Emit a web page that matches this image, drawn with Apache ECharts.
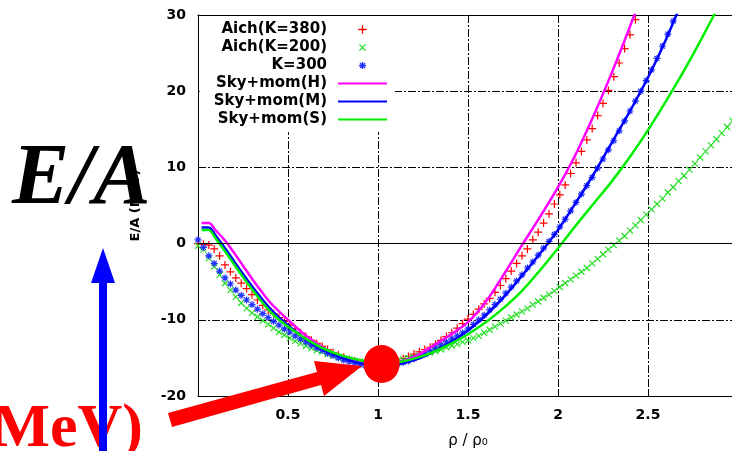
<!DOCTYPE html>
<html>
<head>
<meta charset="utf-8">
<script src="https://cdn.jsdelivr.net/npm/echarts@6/dist/echarts.min.js"></script>
<style>
  html, body { margin: 0; padding: 0; background: #fff; }
  #chart { width: 732px; height: 451px; }
</style>
</head>
<body>
<div id="chart"></div>
<script>
// density grid of the Aichelin points (rho / rho0)
const rhoPts = [
  0, 0.03, 0.06, 0.09, 0.12, 0.15, 0.18, 0.21, 0.24, 0.27,
  0.3, 0.33, 0.36, 0.39, 0.42, 0.45, 0.48, 0.51, 0.54, 0.57,
  0.6, 0.63, 0.66, 0.69, 0.72, 0.75, 0.78, 0.81, 0.84, 0.87,
  0.9, 0.93, 0.96, 0.99, 1.02, 1.05, 1.08, 1.11, 1.14, 1.17,
  1.2, 1.23, 1.26, 1.29, 1.32, 1.35, 1.38, 1.41, 1.44, 1.47,
  1.5, 1.53, 1.56, 1.59, 1.62, 1.65, 1.68, 1.71, 1.74, 1.77,
  1.8, 1.83, 1.86, 1.89, 1.92, 1.95, 1.98, 2.01, 2.04, 2.07,
  2.1, 2.13, 2.16, 2.19, 2.22, 2.25, 2.28, 2.31, 2.34, 2.37,
  2.4, 2.43, 2.46, 2.49, 2.52, 2.55, 2.58, 2.61, 2.64, 2.67,
  2.7, 2.73, 2.76, 2.79, 2.82, 2.85, 2.88, 2.91, 2.94, 2.97
]

const eAich380 = [
  0.0, -0.1, -0.2, -0.7, -1.6, -2.8, -3.7, -4.5, -5.2, -5.9,
  -6.7, -7.4, -8.1, -8.7, -9.2, -9.7, -10.2, -10.7, -11.2, -11.7,
  -12.2, -12.7, -13.1, -13.5, -13.9, -14.3, -14.6, -14.9, -15.2, -15.4,
  -15.6, -15.7, -15.8, -15.8, -15.8, -15.7, -15.6, -15.4, -15.1, -14.8,
  -14.5, -14.2, -13.9, -13.6, -13.2, -12.7, -12.2, -11.7, -11.1, -10.5,
  -9.9, -9.3, -8.6, -7.9, -7.2, -6.4, -5.5, -4.6, -3.6, -2.6,
  -1.6, -0.7, 0.5, 1.5, 2.7, 3.9, 5.2, 6.4, 7.7, 9.2,
  10.6, 12.1, 13.6, 15.1, 16.8, 18.4, 20.1, 21.9, 23.7, 25.6,
  27.4, 29.4
]

const eAich200 = [
  -0.3, -0.8, -1.9, -3.0, -4.1, -5.2, -6.1, -7.0, -7.8, -8.5,
  -9.1, -9.6, -10.1, -10.6, -11.1, -11.6, -12.0, -12.4, -12.8, -13.1,
  -13.4, -13.7, -14.0, -14.2, -14.5, -14.7, -14.9, -15.1, -15.2, -15.4,
  -15.5, -15.6, -15.6, -15.7, -15.7, -15.6, -15.5, -15.4, -15.2, -15.0,
  -14.9, -14.7, -14.5, -14.3, -14.1, -13.9, -13.6, -13.4, -13.2, -12.9,
  -12.7, -12.4, -12.1, -11.7, -11.3, -10.9, -10.5, -10.1, -9.7, -9.3,
  -8.9, -8.5, -8.0, -7.6, -7.1, -6.7, -6.2, -5.7, -5.2, -4.7,
  -4.2, -3.7, -3.2, -2.6, -2.0, -1.4, -0.8, -0.2, 0.4, 1.0,
  1.7, 2.4, 3.1, 3.8, 4.5, 5.2, 5.9, 6.7, 7.4, 8.2,
  8.9, 9.7, 10.5, 11.3, 12.1, 12.9, 13.7, 14.5, 15.3, 16.1
]

const eK300 = [
  0.5, -0.5, -1.6, -2.6, -3.6, -4.5, -5.3, -6.1, -6.8, -7.4,
  -8.0, -8.6, -9.2, -9.7, -10.2, -10.7, -11.2, -11.6, -12.1, -12.5,
  -12.9, -13.3, -13.7, -14.0, -14.4, -14.7, -15.0, -15.3, -15.5, -15.7,
  -15.9, -16.0, -16.1, -16.1, -16.1, -16.0, -15.9, -15.8, -15.6, -15.4,
  -15.1, -14.8, -14.5, -14.1, -13.7, -13.3, -12.9, -12.5, -12.1, -11.7,
  -11.2, -10.6, -10.0, -9.4, -8.7, -8.0, -7.3, -6.5, -5.7, -4.9,
  -4.1, -3.2, -2.4, -1.5, -0.6, 0.3, 1.2, 2.2, 3.2, 4.3,
  5.4, 6.5, 7.6, 8.7, 9.9, 11.1, 12.3, 13.5, 14.8, 16.1,
  17.4, 18.7, 20.0, 21.4, 22.8, 24.3, 25.9, 27.5, 29.2
]

// Skyrme + momentum dependence curves
const rhoLine = [
  0.02, 0.06, 0.1, 0.15, 0.2, 0.25, 0.3, 0.35, 0.4, 0.45, 0.5,
  0.6, 0.7, 0.8, 0.9, 1.0, 1.1, 1.2, 1.3, 1.4, 1.5, 1.6, 1.7, 1.8, 1.9,
  2.0, 2.1, 2.2, 2.3, 2.4, 2.5, 2.6, 2.7, 2.8, 2.9
]
const eSkyH = [
  2.7, 2.7, 1.7, 0.4, -1.2, -2.9, -4.6, -6.2, -7.7, -8.9, -10.0,
  -12.1, -13.7, -14.9, -15.6, -15.9, -15.7, -14.9, -13.5, -12.0, -10.3, -7.6, -4.0, -0.2, 3.5,
  7.4, 11.8, 16.9, 22.5, 28.5, 34.8
]
const eSkyM = [
  2.1, 2.1, 1.0, -0.6, -2.3, -4.0, -5.6, -7.1, -8.5, -9.7, -10.7,
  -12.6, -14.0, -15.0, -15.7, -16.0, -15.9, -15.3, -14.3, -13.0, -11.4, -9.4, -7.0, -4.2, -1.3,
  1.8, 5.4, 9.2, 13.3, 17.4, 21.8, 26.8, 32.4
]
const eSkyS = [
  1.8, 1.8, 0.6, -1.0, -2.7, -4.4, -6.0, -7.5, -8.9, -10.0, -10.9,
  -12.5, -13.8, -14.7, -15.3, -15.6, -15.6, -15.1, -14.3, -13.2, -11.9, -10.3, -8.4, -6.2, -3.5,
  -0.6, 2.4, 5.3, 8.2, 11.4, 14.9, 18.7, 22.7, 27.0, 31.5
]

// saturation point marked by the red dot
const satPoint = [1.02, -15.8]

const legendNames = ['Aich(K=380)', 'Aich(K=200)', 'K=300', 'Sky+mom(H)', 'Sky+mom(M)', 'Sky+mom(S)']
const colors = ['#ff0000', '#22dd22', '#2233ff', '#ff00ff', '#0000ff', '#00ee00']

const pairs = (xs, ys) => ys.map((y, i) => [xs[i], y])

const PLUS = 'path://M0,5L10,5M5,0L5,10'
const CROSS = 'path://M0,0L10,10M0,10L10,0'
const STAR = 'path://M5,0L5,10M0,5L10,5M1.5,1.5L8.5,8.5M1.5,8.5L8.5,1.5'
// legend icons: markers padded a little so they come out smaller, lines as a thin bar
const LEG_PLUS = 'path://M-1,-1M11,11M0,5L10,5M5,0L5,10'
const LEG_CROSS = 'path://M-3,-3M13,13M0,0L10,10M0,10L10,0'
const LEG_STAR = 'path://M-2,-2M12,12M5,0L5,10M0,5L10,5M1.5,1.5L8.5,8.5M1.5,8.5L8.5,1.5'
const LEG_LINE = 'path://M0,4L49,4L49,6L0,6Z'

const font = 'DejaVu Sans'
const gridDash = [8, 2, 2, 2]

const chart = echarts.init(document.getElementById('chart'))

const pointSeries = (name, data, symbol, size, color) => ({
  name,
  type: 'scatter',
  data,
  symbol,
  symbolSize: size,
  itemStyle: { color, borderColor: color, borderWidth: 1.2, opacity: 1 },
  emphasis: { disabled: true }
})

const lineSeries = (name, data, color) => ({
  name,
  type: 'line',
  data,
  symbol: 'none',
  smooth: 0.3,
  lineStyle: { color, width: 2.5 },
  itemStyle: { color },
  emphasis: { disabled: true }
})

chart.setOption({
  animation: false,
  grid: {
    left: 198,
    right: -6,
    top: 15,
    bottom: 55,
    containLabel: false,
    outerBoundsMode: 'none'
  },
  legend: {
    data: [
      { name: legendNames[0], icon: LEG_PLUS, itemStyle: { color: colors[0], borderColor: colors[0], borderWidth: 1.3 } },
      { name: legendNames[1], icon: LEG_CROSS, itemStyle: { color: colors[1], borderColor: colors[1], borderWidth: 1.3 } },
      { name: legendNames[2], icon: LEG_STAR, itemStyle: { color: colors[2], borderColor: colors[2], borderWidth: 1.3 } },
      { name: legendNames[3], icon: LEG_LINE, itemStyle: { color: colors[3], borderWidth: 0 } },
      { name: legendNames[4], icon: LEG_LINE, itemStyle: { color: colors[4], borderWidth: 0 } },
      { name: legendNames[5], icon: LEG_LINE, itemStyle: { color: colors[5], borderWidth: 0 } }
    ],
    orient: 'vertical',
    align: 'right',
    right: 337,
    top: 16,
    itemWidth: 49,
    itemHeight: 10,
    itemGap: 3,
    padding: [6, 8, 5, 14],
    backgroundColor: '#fff',
    selectedMode: false,
    textStyle: {
      fontFamily: font,
      fontWeight: 'bold',
      fontSize: 15,
      color: '#000',
      padding: [0, 6, 0, 0]
    }
  },
  xAxis: [
    {
      type: 'value',
      position: 'bottom',
      min: 0,
      max: 3,
      interval: 0.5,
      name: 'ρ / ρ₀',
      nameLocation: 'middle',
      nameGap: 38,
      nameTextStyle: { fontFamily: font, fontSize: 15, color: '#000' },
      axisLine: { show: true, onZero: false, lineStyle: { color: '#000', width: 1 } },
      axisTick: { show: true, inside: true, length: 6, lineStyle: { color: '#000' } },
      axisLabel: {
        margin: 12,
        showMaxLabel: false,
        fontFamily: font,
        fontWeight: 'bold',
        fontSize: 14,
        color: '#000'
      },
      splitLine: {
        show: true,
        showMinLine: false,
        showMaxLine: false,
        lineStyle: { color: '#000', width: 1, type: gridDash }
      }
    },
    {
      type: 'value',
      position: 'top',
      min: 0,
      max: 3,
      interval: 0.5,
      axisLine: { show: true, onZero: false, lineStyle: { color: '#000', width: 1 } },
      axisTick: { show: true, inside: true, length: 6, lineStyle: { color: '#000' } },
      axisLabel: { show: false },
      splitLine: { show: false }
    }
  ],
  yAxis: {
    type: 'value',
    min: -20,
    max: 30,
    interval: 10,
    name: 'E/A (MeV)',
    nameLocation: 'middle',
    nameRotate: 90,
    nameGap: 56,
    nameTextStyle: { fontFamily: font, fontWeight: 'bold', fontSize: 13, color: '#000' },
    axisLine: { show: true, onZero: false, lineStyle: { color: '#000', width: 1 } },
    axisTick: { show: true, inside: true, length: 6, lineStyle: { color: '#000' } },
    axisLabel: {
      margin: 12,
      fontFamily: font,
      fontWeight: 'bold',
      fontSize: 14,
      color: '#000'
    },
    splitLine: {
      show: true,
      showMinLine: false,
      showMaxLine: false,
      lineStyle: { color: '#000', width: 1, type: gridDash }
    }
  },
  series: [
    pointSeries(legendNames[0], pairs(rhoPts, eAich380), PLUS, 8, colors[0]),
    pointSeries(legendNames[1], pairs(rhoPts, eAich200), CROSS, 6, colors[1]),
    pointSeries(legendNames[2], pairs(rhoPts, eK300), STAR, 7, colors[2]),
    {
      ...lineSeries(legendNames[3], pairs(rhoLine, eSkyH), colors[3]),
      // solid zero line like gnuplot's zeroaxis
      markLine: {
        silent: true,
        symbol: 'none',
        label: { show: false },
        lineStyle: { color: '#000', type: 'solid', width: 1 },
        data: [{ yAxis: 0 }]
      }
    },
    lineSeries(legendNames[4], pairs(rhoLine, eSkyM), colors[4]),
    lineSeries(legendNames[5], pairs(rhoLine, eSkyS), colors[5]),
    {
      name: 'saturation',
      type: 'scatter',
      data: [satPoint],
      symbol: 'circle',
      symbolSize: [36, 38],
      z: 5,
      itemStyle: { color: '#ff0000', opacity: 1 },
      emphasis: { disabled: true }
    }
  ],
  graphic: [
    {
      type: 'text',
      z: 100,
      x: 12,
      y: 181,
      style: {
        text: 'E/A',
        fill: '#000',
        font: 'italic bold 86px "Liberation Serif"',
        align: 'left',
        verticalAlign: 'middle'
      }
    },
    {
      type: 'text',
      z: 100,
      x: 143,
      y: 430,
      style: {
        text: '(MeV)',
        fill: '#ff0000',
        font: 'bold 62px "Liberation Serif"',
        align: 'right',
        verticalAlign: 'middle'
      }
    },
    {
      type: 'polygon',
      z: 101,
      shape: { points: [[103, 248], [91, 283], [99, 283], [99, 455], [107, 455], [107, 283], [115, 283]] },
      style: { fill: '#0000ff' }
    },
    {
      type: 'polygon',
      z: 101,
      shape: {
        points: [[168, 413], [317, 372], [314, 361], [362, 366], [324, 396], [321, 385], [172, 427]]
      },
      style: { fill: '#ff0000' }
    }
  ]
})

window.addEventListener('resize', () => chart.resize())
</script>
</body>
</html>
